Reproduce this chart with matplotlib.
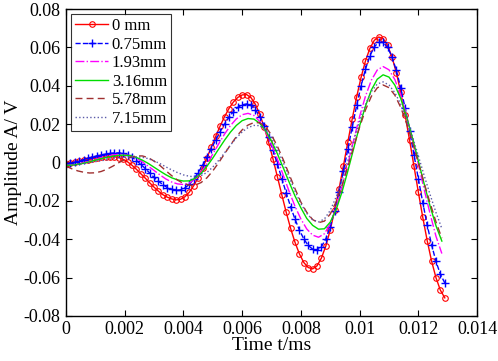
import matplotlib
matplotlib.use("Agg")
import matplotlib.pyplot as plt
import numpy as np

# fine time grid (ms) for the two marked curves, one sample every 0.00015
time_fine = np.linspace(0, 0.0129, 87)
# coarser grid for the plain lines, one sample every 0.0002
time_coarse = np.linspace(0, 0.0128, 65)

amp_0mm = [-0.0007, -0.0003, 0.0001, 0.0006, 0.0011, 0.0015, 0.0020, 0.0023, 0.0026, 0.0029,
           0.0030, 0.0030, 0.0025, 0.0016, 0.0003, -0.0015, -0.0036, -0.0059, -0.0082, -0.0106,
           -0.0129, -0.0150, -0.0168, -0.0181, -0.0190, -0.0195, -0.0192, -0.0179, -0.0155, -0.0121,
           -0.0079, -0.0030, 0.0024, 0.0080, 0.0136, 0.0190, 0.0239, 0.0281, 0.0315, 0.0339,
           0.0352, 0.0354, 0.0338, 0.0303, 0.0251, 0.0184, 0.0105, 0.0018, -0.0075, -0.0169,
           -0.0260, -0.0344, -0.0417, -0.0477, -0.0522, -0.0548, -0.0555, -0.0539, -0.0498, -0.0435,
           -0.0351, -0.0250, -0.0137, -0.0016, 0.0108, 0.0229, 0.0343, 0.0444, 0.0530, 0.0595,
           0.0637, 0.0654, 0.0646, 0.0611, 0.0551, 0.0468, 0.0365, 0.0246, 0.0117, -0.0019,
           -0.0155, -0.0286, -0.0407, -0.0514, -0.0601, -0.0666, -0.0706]

amp_075mm = [-0.0007, -0.0003, 0.0002, 0.0008, 0.0015, 0.0021, 0.0028, 0.0034, 0.0039, 0.0044,
             0.0047, 0.0049, 0.0050, 0.0047, 0.0039, 0.0027, 0.0010, -0.0010, -0.0032, -0.0055,
             -0.0078, -0.0098, -0.0116, -0.0131, -0.0140, -0.0145, -0.0143, -0.0133, -0.0114, -0.0087,
             -0.0053, -0.0015, 0.0028, 0.0072, 0.0117, 0.0161, 0.0201, 0.0236, 0.0265, 0.0287,
             0.0300, 0.0305, 0.0297, 0.0275, 0.0239, 0.0191, 0.0132, 0.0065, -0.0008, -0.0084,
             -0.0159, -0.0231, -0.0296, -0.0353, -0.0399, -0.0433, -0.0452, -0.0457, -0.0439, -0.0398,
             -0.0334, -0.0251, -0.0153, -0.0044, 0.0071, 0.0187, 0.0298, 0.0400, 0.0487, 0.0556,
             0.0603, 0.0627, 0.0626, 0.0601, 0.0551, 0.0480, 0.0389, 0.0283, 0.0165, 0.0041,
             -0.0086, -0.0209, -0.0325, -0.0429, -0.0516, -0.0583, -0.0628]

amp_193mm = [-0.0015, -0.0013, -0.0009, -0.0002, 0.0006, 0.0016, 0.0025, 0.0033, 0.0039,
             0.0042, 0.0041, 0.0034, 0.0021, 0.0003, -0.0019, -0.0042, -0.0065, -0.0086, -0.0102, -0.0112,
             -0.0115, -0.0107, -0.0086, -0.0051, -0.0007, 0.0044, 0.0097, 0.0148, 0.0192, 0.0227, 0.0249,
             0.0256, 0.0245, 0.0213, 0.0161, 0.0095, 0.0017, -0.0067, -0.0151, -0.0229, -0.0295, -0.0347, -0.0379,
             -0.0390, -0.0372, -0.0319, -0.0236, -0.0130, -0.0008, 0.0118, 0.0240, 0.0346, 0.0429, 0.0482,
             0.0500, 0.0483, 0.0432, 0.0351, 0.0245, 0.0122, -0.0010, -0.0142, -0.0268, -0.0385, -0.0475]

amp_316mm = [-0.0015, -0.0014, -0.0010, -0.0004, 0.0003, 0.0012, 0.0020, 0.0027, 0.0033,
             0.0037, 0.0038, 0.0035, 0.0026, 0.0012, -0.0005, -0.0025, -0.0045, -0.0064, -0.0080, -0.0091,
             -0.0097, -0.0096, -0.0083, -0.0057, -0.0020, 0.0023, 0.0070, 0.0116, 0.0158, 0.0193, 0.0218,
             0.0229, 0.0226, 0.0204, 0.0165, 0.0111, 0.0045, -0.0028, -0.0103, -0.0175, -0.0237, -0.0292, -0.0328,
             -0.0348, -0.0346, -0.0311, -0.0246, -0.0154, -0.0044, 0.0074, 0.0191, 0.0294, 0.0378, 0.0434,
             0.0457, 0.0445, 0.0403, 0.0333, 0.0237, 0.0127, 0.0008, -0.0113, -0.0228, -0.0330, -0.0410]

amp_578mm = [-0.0020, -0.0033, -0.0044, -0.0051, -0.0055, -0.0054, -0.0047, -0.0035, -0.0019,
             -0.0001, 0.0015, 0.0027, 0.0034, 0.0034, 0.0025, 0.0007, -0.0016, -0.0043, -0.0069, -0.0092,
             -0.0110, -0.0119, -0.0118, -0.0105, -0.0080, -0.0044, -0.0001, 0.0045, 0.0091, 0.0134, 0.0170,
             0.0195, 0.0208, 0.0207, 0.0185, 0.0143, 0.0084, 0.0014, -0.0062, -0.0137, -0.0207, -0.0260, -0.0298,
             -0.0314, -0.0306, -0.0269, -0.0205, -0.0120, -0.0021, 0.0084, 0.0185, 0.0274, 0.0345, 0.0389,
             0.0404, 0.0390, 0.0351, 0.0287, 0.0203, 0.0105, -0.0001, -0.0109, -0.0212, -0.0310, -0.0395]

amp_715mm = [-0.0012, -0.0011, -0.0009, -0.0006, -0.0002, 0.0004, 0.0009, 0.0014, 0.0020,
             0.0024, 0.0027, 0.0029, 0.0030, 0.0027, 0.0020, 0.0008, -0.0006, -0.0023, -0.0039, -0.0053,
             -0.0065, -0.0072, -0.0075, -0.0069, -0.0052, -0.0024, 0.0011, 0.0050, 0.0090, 0.0128, 0.0159,
             0.0182, 0.0193, 0.0192, 0.0170, 0.0128, 0.0069, -0.0001, -0.0076, -0.0150, -0.0215, -0.0266, -0.0299,
             -0.0310, -0.0295, -0.0250, -0.0180, -0.0091, 0.0010, 0.0116, 0.0217, 0.0303, 0.0370, 0.0409,
             0.0420, 0.0404, 0.0364, 0.0304, 0.0226, 0.0134, 0.0034, -0.0069, -0.0168, -0.0261, -0.0345]

labels = ['0 mm', '0.75mm', '1.93mm', '3.16mm', '5.78mm', '7.15mm']

x_ticks = [0, 0.002, 0.004, 0.006, 0.008, 0.01, 0.012, 0.014]
x_tick_labels = ['0', '0.002', '0.004', '0.006', '0.008', '0.01', '0.012', '0.014']
y_ticks = [-0.08, -0.06, -0.04, -0.02, 0, 0.02, 0.04, 0.06, 0.08]
y_tick_labels = ['-0.08', '-0.06', '-0.04', '-0.02', '0', '0.02', '0.04', '0.06', '0.08']

plt.rcParams['font.family'] = ['Liberation Serif', 'DejaVu Serif']

fig = plt.figure(figsize=(4.98, 3.61), dpi=100)
ax = fig.add_axes([0.1325, 0.125, 0.8255, 0.85])

ax.plot(time_fine, amp_0mm, color='#ff0000', ls='-', lw=1.0, marker='o', ms=4,
        mfc='none', mew=0.8, label=labels[0])
ax.plot(time_fine, amp_075mm, color='#0000ff', ls='--', lw=1.0, marker='+', ms=6,
        mew=1.0, label=labels[1])
ax.plot(time_coarse, amp_193mm, color='#ff00ff', ls='-.', lw=1.0, label=labels[2])
ax.plot(time_coarse, amp_316mm, color='#00dd00', ls='-', lw=1.0, label=labels[3])
ax.plot(time_coarse, amp_578mm, color='#a03030', ls=(0, (5, 3)), lw=1.0, label=labels[4])
ax.plot(time_coarse, amp_715mm, color='#5a5aa8', ls=':', lw=1.0, label=labels[5])

ax.set_xlim(0, 0.014)
ax.set_ylim(-0.08, 0.08)
ax.set_xticks(x_ticks)
ax.set_xticklabels(x_tick_labels)
ax.set_yticks(y_ticks)
ax.set_yticklabels(y_tick_labels)
ax.tick_params(direction='in', top=True, right=True, labelsize=13, length=4, width=0.8, pad=4)
for s in ax.spines.values():
    s.set_linewidth(1.0)

ax.set_xlabel('Time t/ms', fontsize=14, labelpad=-1)
ax.set_ylabel('Amplitude A/ V', fontsize=14, labelpad=1)

leg = ax.legend(loc='upper left', fontsize=12, frameon=True, fancybox=False,
                edgecolor='black', handlelength=2.0, labelspacing=0.15,
                borderpad=0.25, handletextpad=0.2, borderaxespad=0.3)
leg.get_frame().set_linewidth(0.8)

fig.savefig('out.png', dpi=100)
